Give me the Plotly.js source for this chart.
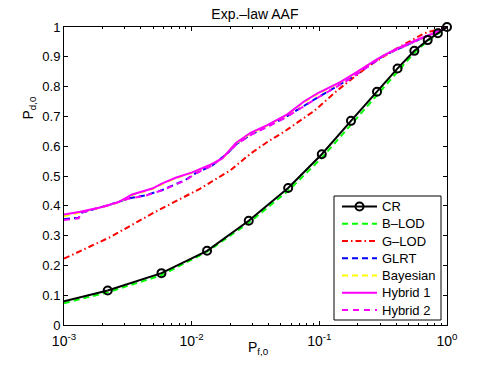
<!DOCTYPE html>
<html>
<head>
<meta charset="utf-8">
<script src="https://cdn.plot.ly/plotly-3.0.1.min.js"></script>
<style>
  html, body { margin: 0; padding: 0; background: #fff; }
  #chart { width: 494px; height: 366px; }
</style>
</head>
<body>
<div id="chart"></div>
<script>
// values (Pf on log axis, Pd linear)
const crLeadX = [0.001, 0.0022];
const crLeadY = [0.080, 0.116];
const crX = [0.0022, 0.0058, 0.0132, 0.028, 0.057, 0.1045, 0.177, 0.283, 0.41, 0.555, 0.706, 0.848, 1];
const crY = [0.116, 0.174, 0.249, 0.350, 0.460, 0.573, 0.685, 0.783, 0.861, 0.920, 0.956, 0.979, 1];

const blodX = [0.001, 0.0022, 0.0058, 0.0132, 0.028, 0.057, 0.1045, 0.177, 0.283, 0.41, 0.555, 0.706, 0.848, 1];
const blodY = [0.073, 0.110, 0.167, 0.246, 0.343, 0.450, 0.561, 0.672, 0.771, 0.851, 0.914, 0.953, 0.978, 1];

const glodX = [0.001, 0.0023, 0.005, 0.0117, 0.0201, 0.0289, 0.0391, 0.0528, 0.0908, 0.139, 0.239, 0.386, 0.664, 1];
const glodY = [0.2225, 0.295, 0.376, 0.458, 0.519, 0.575, 0.614, 0.648, 0.718, 0.788, 0.867, 0.923, 0.979, 1];

const hyb2X = [0.001, 0.0013, 0.00138, 0.00238, 0.00322, 0.00435, 0.00589, 0.00897, 0.0107, 0.0146, 0.0197, 0.0222, 0.0289, 0.0528, 0.0966, 0.177, 0.322, 0.589, 1];
const glrtY = [0.355, 0.360, 0.377, 0.406, 0.425, 0.435, 0.453, 0.487, 0.509, 0.536, 0.582, 0.606, 0.638, 0.694, 0.763, 0.829, 0.905, 0.956, 1];
const hyb2Y = [0.352, 0.358, 0.378, 0.405, 0.424, 0.434, 0.452, 0.486, 0.508, 0.536, 0.581, 0.605, 0.637, 0.693, 0.762, 0.828, 0.905, 0.956, 1];

const hyb1X = [0.001, 0.00134, 0.00199, 0.00269, 0.00342, 0.00491, 0.00589, 0.00749, 0.0101, 0.0137, 0.0174, 0.0197, 0.0222, 0.0289, 0.0391, 0.0561, 0.0758, 0.0966, 0.147, 0.199, 0.286, 0.386, 0.589, 0.848, 1];
const bayesY = [0.365, 0.378, 0.395, 0.412, 0.436, 0.456, 0.473, 0.492, 0.511, 0.535, 0.558, 0.585, 0.609, 0.643, 0.669, 0.705, 0.748, 0.775, 0.815, 0.849, 0.892, 0.922, 0.957, 0.984, 1];
const hyb1Y = [0.371, 0.380, 0.396, 0.413, 0.438, 0.458, 0.475, 0.494, 0.512, 0.536, 0.559, 0.587, 0.611, 0.645, 0.671, 0.707, 0.750, 0.777, 0.816, 0.850, 0.893, 0.923, 0.958, 0.984, 1];

const names = ['CR', 'B–LOD', 'G–LOD', 'GLRT', 'Bayesian', 'Hybrid 1', 'Hybrid 2'];
const xTickVals = [0.001, 0.01, 0.1, 1];
const xTickText = ['10<sup>-3</sup>', '10<sup>-2</sup>', '10<sup>-1</sup>', '10<sup>0</sup>'];

const dash = '6px,4px';
const styles = [
    {color: '#000000', dash: 'solid'},
    {color: '#00ff00', dash: dash},
    {color: '#ff0000', dash: '6px,3px,1.5px,3px'},
    {color: '#0000ff', dash: dash},
    {color: '#ffff00', dash: dash},
    {color: '#ff00ff', dash: 'solid'},
    {color: '#ff00ff', dash: '6px,5px'}
];
const lw = 2;

const traces = [
    {x: blodX, y: blodY, name: names[1], mode: 'lines',
        line: {color: styles[1].color, width: lw, dash: styles[1].dash}},
    {x: glodX, y: glodY, name: names[2], mode: 'lines',
        line: {color: styles[2].color, width: lw, dash: styles[2].dash}},
    {x: hyb2X, y: glrtY, name: names[3], mode: 'lines',
        line: {color: styles[3].color, width: lw, dash: styles[3].dash}},
    {x: hyb1X, y: bayesY, name: names[4], mode: 'lines',
        line: {color: styles[4].color, width: lw, dash: styles[4].dash}},
    {x: hyb1X, y: hyb1Y, name: names[5], mode: 'lines',
        line: {color: styles[5].color, width: lw}},
    {x: hyb2X, y: hyb2Y, name: names[6], mode: 'lines',
        line: {color: styles[6].color, width: lw, dash: styles[6].dash}},
    {x: crLeadX, y: crLeadY, mode: 'lines', hoverinfo: 'skip',
        line: {color: '#000000', width: lw}},
    {x: crX, y: crY, name: names[0], mode: 'lines+markers', cliponaxis: false,
        line: {color: '#000000', width: lw},
        marker: {symbol: 'circle-open', size: 8, color: '#000000', line: {width: 2}}}
];

const font = {family: 'Liberation Sans, Arial, sans-serif', size: 13, color: '#000000'};

// plot box in pixels, used to place the hand-made legend
const L = 64, R = 447, T = 27, B = 325;
const px = (v) => (v - L) / (R - L);
const py = (v) => (B - v) / (B - T);

const shapes = [{
    type: 'rect', xref: 'paper', yref: 'paper',
    x0: px(334), x1: px(441), y0: py(320), y1: py(196),
    fillcolor: '#ffffff', line: {color: '#000000', width: 1}, layer: 'above'
}];
const annotations = [];
names.forEach((name, i) => {
    const yc = 206.5 + i * 17.25;
    shapes.push({
        type: 'line', xref: 'paper', yref: 'paper',
        x0: px(342), x1: px(377), y0: py(yc), y1: py(yc),
        line: {color: styles[i].color, width: lw, dash: styles[i].dash}
    });
    if (i === 0) {
        shapes.push({
            type: 'circle', xref: 'paper', yref: 'paper',
            x0: px(355.5), x1: px(363.5), y0: py(yc + 4), y1: py(yc - 4),
            fillcolor: 'rgba(0,0,0,0)', line: {color: '#000000', width: 2}
        });
    }
    annotations.push({
        text: name, xref: 'paper', yref: 'paper', x: px(380), y: py(yc),
        xanchor: 'left', yanchor: 'middle', showarrow: false, font: font
    });
});

annotations.push(
    {text: 'P<sub>f,0</sub>', xref: 'paper', yref: 'paper', x: 0.508, y: -0.078,
        xanchor: 'center', yanchor: 'middle', showarrow: false,
        font: {family: font.family, size: 14, color: '#000000'}},
    {text: 'P<sub>d,0</sub>', xref: 'paper', yref: 'paper', x: -0.09, y: 0.728,
        xanchor: 'center', yanchor: 'middle', textangle: -90, showarrow: false,
        font: {family: font.family, size: 14, color: '#000000'}}
);

const layout = {
    width: 494,
    height: 366,
    margin: {l: L, r: 494 - R, t: T, b: 366 - B},
    paper_bgcolor: '#ffffff',
    plot_bgcolor: '#ffffff',
    font: font,
    showlegend: false,
    title: {
        text: 'Exp.–law AAF',
        font: {family: font.family, size: 14, color: '#000000'},
        x: 0.516, xanchor: 'center',
        y: 1 - 14 / 366, yanchor: 'middle'
    },
    xaxis: {
        type: 'log',
        range: [-3, 0],
        tickvals: xTickVals,
        ticktext: xTickText,
        showgrid: false,
        zeroline: false,
        showline: true,
        linecolor: '#000000',
        linewidth: 1,
        mirror: 'ticks',
        ticks: 'inside',
        ticklen: 4,
        tickcolor: '#000000',
        ticklabelstandoff: 3,
        minor: {ticks: 'inside', ticklen: 2, tickcolor: '#000000', showgrid: false, dtick: 'D1'},
        tickfont: {family: font.family, size: 14, color: '#000000'}
    },
    yaxis: {
        range: [0, 1],
        dtick: 0.1,
        showgrid: false,
        zeroline: false,
        showline: true,
        linecolor: '#000000',
        linewidth: 1,
        mirror: 'ticks',
        ticks: 'inside',
        ticklen: 4,
        tickcolor: '#000000',
        tickfont: font
    },
    shapes: shapes,
    annotations: annotations
};

Plotly.newPlot('chart', traces, layout, {displayModeBar: false, staticPlot: true});
</script>
</body>
</html>
